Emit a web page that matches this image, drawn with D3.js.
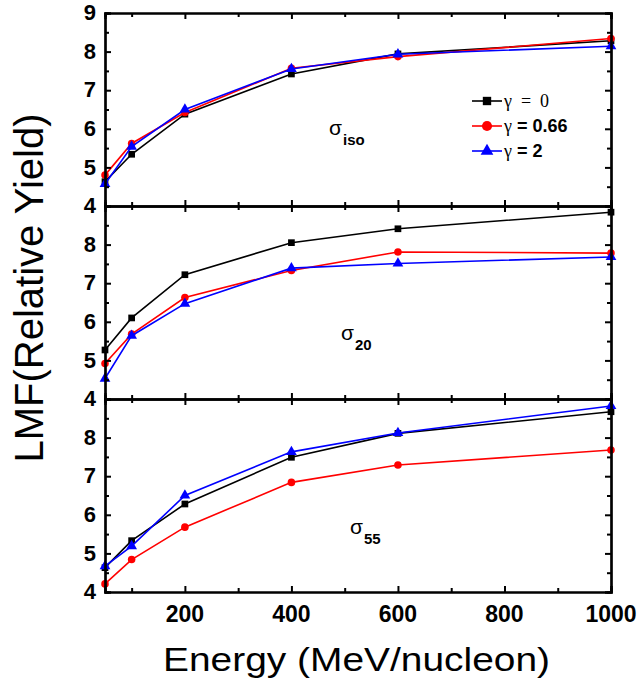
<!DOCTYPE html>
<html>
<head>
<meta charset="utf-8">
<script src="https://cdn.jsdelivr.net/npm/d3@7"></script>
<style>
  body { margin: 0; background: #fff; }
  svg { display: block; }
</style>
</head>
<body>
<svg id="chart"></svg>
<script>
// energies (MeV/nucleon)
const energies = [50, 100, 200, 400, 600, 1000];

// sigma_iso panel
const isoG0 = [4.63, 5.34, 6.38, 7.42, 7.94, 8.28];
const isoG066 = [4.80, 5.62, 6.42, 7.57, 7.87, 8.34];
const isoG2 = [4.57, 5.54, 6.50, 7.55, 7.93, 8.14];

// sigma_20 panel
const s20G0 = [5.27, 6.10, 7.22, 8.05, 8.41, 8.84];
const s20G066 = [4.92, 5.68, 6.63, 7.33, 7.81, 7.78];
const s20G2 = [4.53, 5.64, 6.47, 7.39, 7.51, 7.68];

// sigma_55 panel
const s55G0 = [4.63, 5.33, 6.28, 7.49, 8.11, 8.67];
const s55G066 = [4.21, 4.84, 5.68, 6.84, 7.29, 7.68];
const s55G2 = [4.67, 5.19, 6.50, 7.63, 8.12, 8.82];

const xTicks = [200, 400, 600, 800, 1000];
const xMinor = [100, 300, 500, 700, 900];
const yTicksTop = [4, 5, 6, 7, 8, 9];
const yTicksLow = [4, 5, 6, 7, 8];
const yMinor = [4.5, 5.5, 6.5, 7.5, 8.5];

const seriesNames = ['γ = 0', 'γ = 0.66', 'γ = 2'];
const colors = ['#000000', '#ff0000', '#0000ff'];
const shapes = [d3.symbolSquare, d3.symbolCircle, d3.symbolTriangle];

const panels = [
  { sub: 'iso', data: [isoG0, isoG066, isoG2], ticks: yTicksTop, lx: 329, ly: 135 },
  { sub: '20', data: [s20G0, s20G066, s20G2], ticks: yTicksLow, lx: 341, ly: 340 },
  { sub: '55', data: [s55G0, s55G066, s55G2], ticks: yTicksLow, lx: 350, ly: 534 }
];

const W = 639, H = 684;
const plotL = 105, plotR = 611, plotT = 13, panelH = 193;

const svg = d3.select('#chart').attr('width', W).attr('height', H);

const x = d3.scaleLinear().domain([50, 1000]).range([plotL, plotR]);

panels.forEach((p, i) => {
  const y0 = plotT + i * panelH;
  const y = d3.scaleLinear().domain([4, 9]).range([y0 + panelH, y0]);
  const g = svg.append('g');

  // lines and markers
  p.data.forEach((vals, s) => {
    const pts = energies.map((e, k) => [e, vals[k]]);
    g.append('path')
      .datum(pts)
      .attr('fill', 'none')
      .attr('stroke', colors[s])
      .attr('stroke-width', 1.6)
      .attr('d', d3.line().x(d => x(d[0])).y(d => y(d[1])));
    g.selectAll(null)
      .data(pts)
      .enter()
      .append('path')
      .attr('transform', d => `translate(${x(d[0])},${y(d[1])})`)
      .attr('d', d3.symbol().type(shapes[s]).size(s === 2 ? 50 : 45))
      .attr('fill', colors[s]);
  });

  // axes with inward ticks
  const axBottom = d3.axisTop(x).tickValues(xTicks).tickSize(6).tickFormat('');
  const axTop = d3.axisBottom(x).tickValues(xTicks).tickSize(6).tickFormat('');
  const axBottomMinor = d3.axisTop(x).tickValues(xMinor).tickSize(4).tickFormat('');
  const axTopMinor = d3.axisBottom(x).tickValues(xMinor).tickSize(4).tickFormat('');
  const axLeft = d3.axisRight(y).tickValues(yTicksTop).tickSize(6).tickFormat('');
  const axRight = d3.axisLeft(y).tickValues(yTicksTop).tickSize(6).tickFormat('');
  const axLeftMinor = d3.axisRight(y).tickValues(yMinor).tickSize(4).tickFormat('');
  const axRightMinor = d3.axisLeft(y).tickValues(yMinor).tickSize(4).tickFormat('');

  [[axBottom, `translate(0,${y0 + panelH})`], [axBottomMinor, `translate(0,${y0 + panelH})`],
   [axTop, `translate(0,${y0})`], [axTopMinor, `translate(0,${y0})`],
   [axLeft, `translate(${plotL},0)`], [axLeftMinor, `translate(${plotL},0)`],
   [axRight, `translate(${plotR},0)`], [axRightMinor, `translate(${plotR},0)`]
  ].forEach(([ax, tr]) => {
    const a = g.append('g').attr('transform', tr).call(ax);
    a.selectAll('path.domain').attr('stroke', '#000').attr('stroke-width', 2.2);
    a.selectAll('line').attr('stroke', '#000').attr('stroke-width', 2);
  });

  // y tick labels
  g.selectAll(null)
    .data(p.ticks)
    .enter()
    .append('text')
    .attr('x', plotL - 9)
    .attr('y', d => y(d))
    .attr('dy', '0.33em')
    .attr('text-anchor', 'end')
    .attr('font-family', 'Liberation Sans, Arial, sans-serif')
    .attr('font-weight', 'bold')
    .attr('font-size', 22)
    .text(d => d);

  // sigma label
  const t = g.append('text')
    .attr('x', p.lx)
    .attr('y', p.ly)
    .attr('font-family', 'Liberation Sans, Arial, sans-serif')
    .attr('fill', '#000');
  t.append('tspan').attr('font-size', 21).text('σ');
  t.append('tspan').attr('font-size', 15).attr('font-weight', 'bold').attr('dx', 1).attr('dy', 10).text(p.sub);
});

// x tick labels
svg.selectAll(null)
  .data(xTicks)
  .enter()
  .append('text')
  .attr('x', d => x(d))
  .attr('y', 622)
  .attr('text-anchor', 'middle')
  .attr('font-family', 'Liberation Sans, Arial, sans-serif')
  .attr('font-weight', 'bold')
  .attr('font-size', 23)
  .text(d => d);

// axis titles
svg.append('text')
  .attr('x', 163)
  .attr('y', 671)
  .attr('font-family', 'Liberation Sans, Arial, sans-serif')
  .attr('font-size', 34)
  .attr('textLength', 387)
  .attr('lengthAdjust', 'spacingAndGlyphs')
  .text('Energy (MeV/nucleon)');

svg.append('text')
  .attr('transform', 'translate(43,288) rotate(-90)')
  .attr('text-anchor', 'middle')
  .attr('font-family', 'Liberation Sans, Arial, sans-serif')
  .attr('font-size', 40)
  .text('LMF(Relative Yield)');

// legend
const legend = svg.append('g');
seriesNames.forEach((name, s) => {
  const ly = 101 + s * 25;
  legend.append('line')
    .attr('x1', 472).attr('x2', 502)
    .attr('y1', ly).attr('y2', ly)
    .attr('stroke', colors[s]).attr('stroke-width', 1.6);
  legend.append('path')
    .attr('transform', `translate(487,${ly})`)
    .attr('d', d3.symbol().type(shapes[s]).size(s === 1 ? 80 : 70))
    .attr('fill', colors[s]);
  const parts = name.split('γ');
  const txt = legend.append('text')
    .attr('x', 504)
    .attr('y', ly + 6)
    .attr('font-size', 18);
  txt.append('tspan').attr('font-family', 'Liberation Serif, Times New Roman, serif').text('γ');
  if (s === 0) {
    txt.append('tspan').attr('font-family', 'Liberation Serif, Times New Roman, serif')
      .attr('xml:space', 'preserve').text('  =  0');
  } else {
    txt.append('tspan').attr('font-family', 'Liberation Sans, Arial, sans-serif')
      .attr('font-weight', 'bold').text(parts[1]);
  }
});
</script>
</body>
</html>
